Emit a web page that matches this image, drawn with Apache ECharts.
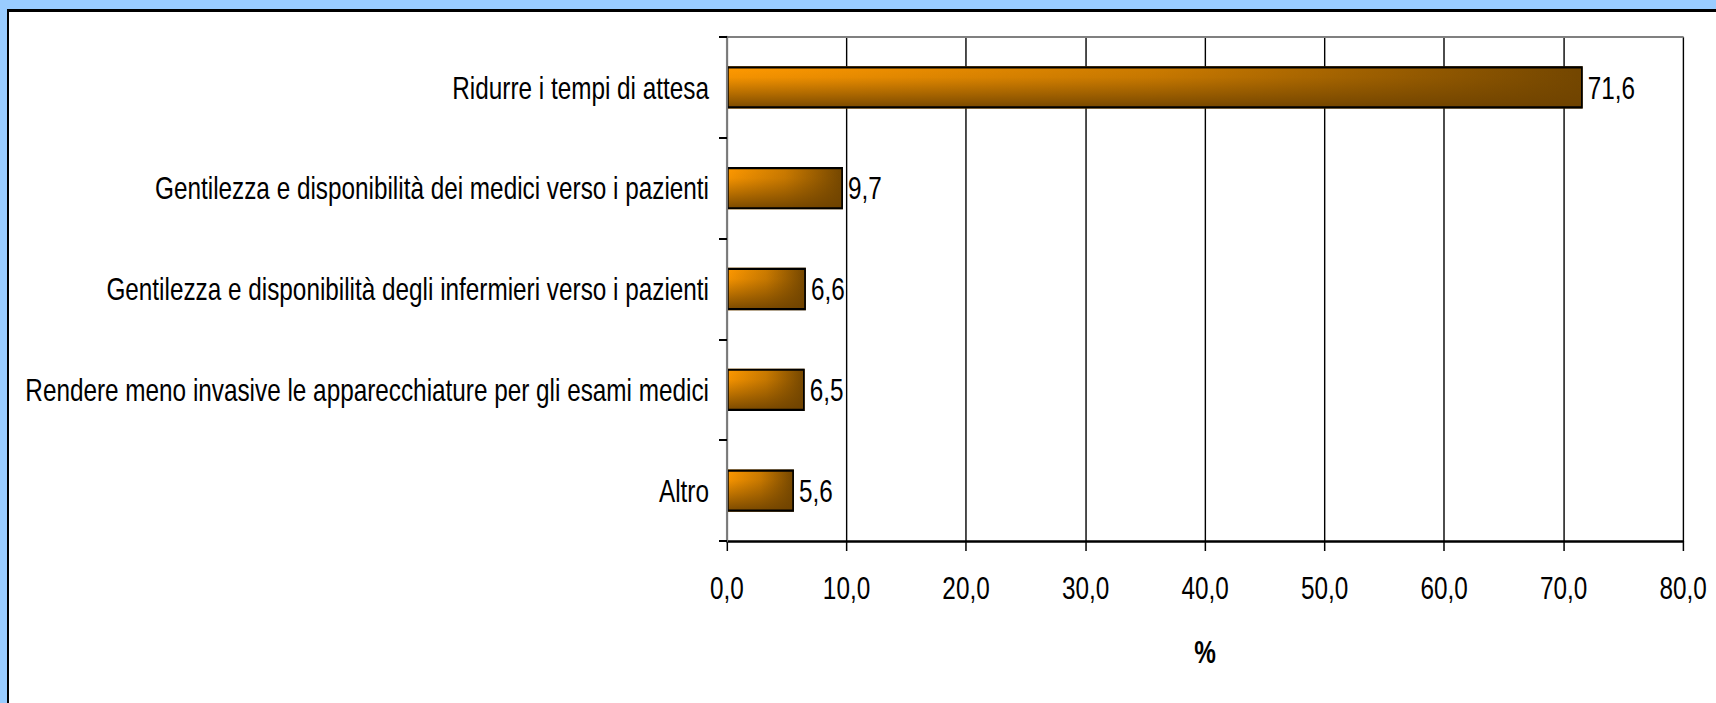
<!DOCTYPE html>
<html>
<head>
<meta charset="utf-8">
<script src="https://cdn.jsdelivr.net/npm/echarts@6/dist/echarts.min.js"></script>
<style>
  html, body { margin: 0; padding: 0; width: 1716px; height: 703px; overflow: hidden; background: #99CCFF; }
  #frame { position: absolute; left: 7px; top: 9px; right: -10px; bottom: -10px; background: #fff; border-left: 2px solid #000; border-top: 3px solid #000; }
  #wrap { position: absolute; left: 0; top: 0; width: 2258px; height: 703px; transform: scaleX(0.76); transform-origin: 0 0; }
  #chart { width: 2258px; height: 703px; }
</style>
</head>
<body>
<div id="frame"></div>
<div id="wrap"><div id="chart"></div></div>
<script>
const categories = [
  'Ridurre i tempi di attesa',
  'Gentilezza e disponibilità dei medici verso i pazienti',
  'Gentilezza e disponibilità degli infermieri verso i pazienti',
  'Rendere meno invasive le apparecchiature per gli esami medici',
  'Altro'
];
const values = [71.6, 9.7, 6.6, 6.5, 5.6];
const xTicks = { min: 0, max: 80, interval: 10 };
const axisTitle = '%';

// Text is drawn in Liberation Sans and the whole chart is condensed horizontally
// (CSS scaleX) to imitate the narrow typeface of the original.
const SX = 0.76;
const FS = 32;
const FONT = "'Liberation Sans', Arial, sans-serif";
const fmt = v => Number(v).toFixed(1).replace('.', ',');
const vw = w => w / SX; // width of vertical strokes before horizontal condensing

const chart = echarts.init(document.getElementById('chart'), null, { renderer: 'svg' });
chart.setOption({
  backgroundColor: 'transparent',
  animation: false,
  grid: { left: 727 / SX, right: 33 / SX, top: 37, bottom: 162, containLabel: false, outerBoundsMode: 'none' },
  xAxis: [{
    type: 'value',
    position: 'bottom',
    min: xTicks.min, max: xTicks.max, interval: xTicks.interval,
    name: axisTitle,
    nameLocation: 'middle',
    nameGap: 95,
    nameTextStyle: { fontFamily: FONT, fontSize: FS, fontWeight: 'bold', color: '#000' },
    axisLine: { show: true, onZero: false, lineStyle: { color: '#000', width: 2.5 } },
    axisTick: { show: true, length: 10, lineStyle: { color: '#000', width: vw(1.5) } },
    axisLabel: { fontFamily: FONT, fontSize: FS, color: '#000', margin: 31, formatter: fmt },
    splitLine: { show: true, lineStyle: { color: '#000', width: vw(1.4) } }
  }, {
    type: 'value',
    position: 'top',
    min: xTicks.min, max: xTicks.max, interval: xTicks.interval,
    axisLine: { show: true, lineStyle: { color: '#808080', width: 2 } },
    axisTick: { show: false },
    axisLabel: { show: false },
    splitLine: { show: false }
  }],
  yAxis: [{
    type: 'category',
    data: categories,
    inverse: true,
    position: 'left',
    axisLine: { show: true, lineStyle: { color: '#000', width: vw(1.5) } },
    axisTick: { show: true, length: 8 / SX, inside: false, lineStyle: { color: '#000', width: 2 } },
    axisLabel: { fontFamily: FONT, fontSize: FS, color: '#000', margin: 18 / SX },
    splitLine: { show: false },
    z: 5
  }, {
    type: 'category',
    data: categories,
    inverse: true,
    position: 'right',
    axisLine: { show: true, lineStyle: { color: '#808080', width: vw(2) } },
    axisTick: { show: false },
    axisLabel: { show: false },
    splitLine: { show: false },
    z: 5
  }],
  series: [{
    // base: horizontal orange -> brown gradient
    type: 'bar',
    data: values,
    xAxisIndex: 0,
    yAxisIndex: 0,
    barCategoryGap: '58%',
    silent: true,
    itemStyle: {
      color: new echarts.graphic.LinearGradient(0, 0, 1, 0, [
        { offset: 0, color: '#FF9900' },
        { offset: 0.5, color: '#CC7B00' },
        { offset: 1, color: '#734600' }
      ])
    },
    z: 2
  }, {
    // overlay: darkening towards the bottom (gives the "from corner" look) + border + labels
    type: 'bar',
    data: values,
    xAxisIndex: 0,
    yAxisIndex: 0,
    barGap: '-100%',
    barCategoryGap: '58%',
    itemStyle: {
      color: new echarts.graphic.LinearGradient(0, 0, 0, 1, [
        { offset: 0, color: 'rgba(115,70,0,0)' },
        { offset: 0.25, color: 'rgba(115,70,0,0.08)' },
        { offset: 1, color: 'rgba(110,66,0,0.9)' }
      ]),
      borderColor: '#000',
      borderWidth: 2.2
    },
    label: {
      show: true,
      position: 'right',
      distance: 5 / SX,
      fontFamily: FONT,
      fontSize: FS,
      color: '#000',
      formatter: p => fmt(p.value)
    },
    z: 3
  }]
});
</script>
</body>
</html>
